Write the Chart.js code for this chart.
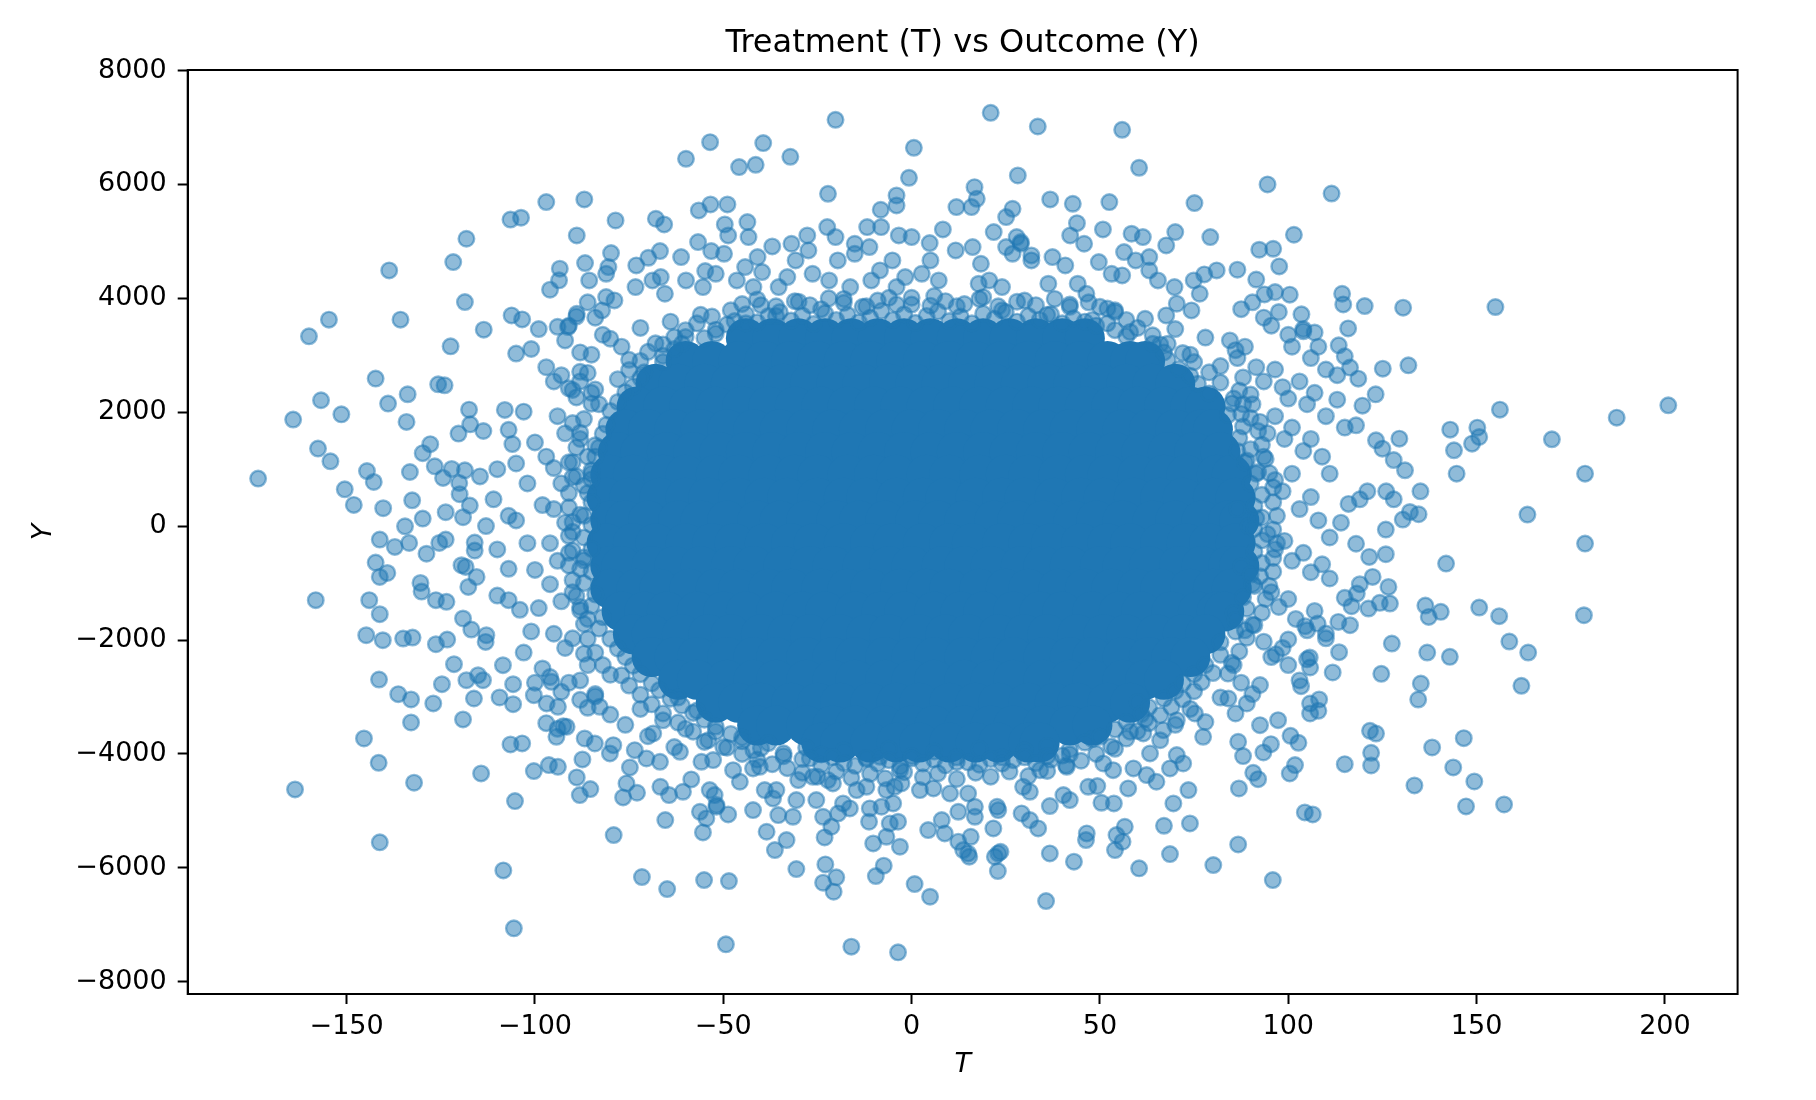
<!DOCTYPE html>
<html>
<head>
<meta charset="utf-8">
<script src="https://cdn.jsdelivr.net/npm/chart.js@4.4.1/dist/chart.umd.min.js"></script>
<style>
  html, body { margin: 0; padding: 0; background: #ffffff; }
  #c { display: block; }
</style>
</head>
<body>
<canvas id="c" width="1816" height="1100" style="width:1816px;height:1100px"></canvas>
<script>
// ---------------- DATA ----------------
const chartTitle = 'Treatment (T) vs Outcome (Y)';
const xLabel = 'T';
const yLabel = 'Y';
const tTicks = [-150, -100, -50, 0, 50, 100, 150, 200];
const yTicks = [-8000, -6000, -4000, -2000, 0, 2000, 4000, 6000, 8000];

// sparse points, left side  [T, Y]
const leftOuter = [
[-173.5,834],[-160,3332],[-154.7,3625],[-138.7,4490],[-135.7,3625],[-121.7,4636],[-118.2,5046],[-106.5,5382],[-103.7,5415],[-97,5690],
[-118.6,3934],[-122.4,3156],[-113.6,3449],[-96,4151],[-93.4,4520],[-93.6,4315],[-106.2,3700],[-103.4,3630],[-142.3,2590],[-156.8,2210],
[-164.2,1871],[-151.4,1962],[-139,2151],[-133.8,2315],[-134.1,1829],[-129.8,1281],[-127.8,1439],[-125.7,2490],[-124,2473],[-117.5,2045],
[-117.2,1787],[-113.7,1670],[-120.3,1624],[-157.6,1361],[-154.3,1138],[-144.6,967],[-142.8,775],[-150.5,646],[-148.1,372],[-140.3,314],
[-133.2,950],[-132.6,453],[-129.8,132],[-134.5,-3],[-141.2,-237],[-137.2,-366],[-133.4,-296],[-142.3,-640],[-141.2,-893],[-139.2,-823],
[-126.6,1050],[-124.4,846],[-122.1,1004],[-120.1,758],[-118.6,979],[-114.6,873],[-123.7,244],[-119.1,156],[-117.3,361],[-128.8,-485],
[-125.4,-296],[-123.7,-237],[-119.5,-687],[-118.4,-717],[-130.4,-998],[-130.1,-1150],[-117.7,-1068],[-115.5,-893],
[-158.2,-1300],[-144,-1300],[-141.2,-1547],[-144.8,-1916],[-140.4,-2004],[-135,-1974],[-132.5,-1957],[-126.3,-1300],[-123.5,-1330],
[-126.3,-2074],[-123.3,-1992],[-121.5,-2425],[-141.4,-2694],[-136.3,-2951],[-132.9,-3044],[-127,-3114],[-124.7,-2776],[-132.9,-3448],
[-145.4,-3729],[-141.5,-4157],[-163.7,-4624],[-132.1,-4506],[-141.2,-5553],[-119.1,-3395],[-118.2,-2706],[-115.1,-2618],[-113.8,-2706],
[-116.2,-3027],[-109.4,-3009],[-105.8,-3127],[-108.5,-2442],[-105.8,-2776],[-114.3,-4343],[-105.3,-4829],[-108.4,-6046],[-105.6,-7063],
[-106.5,-3834],[-103.4,-3816],[-100.3,-4302],[-96.3,-4197],[-93.9,-4227],[-88.9,-4413],[-66.8,-4139],[-94.3,-3700],[-91.6,-3525],
[-100.3,-2969],[-96.9,-3114],[-93.9,-3173],[-95.6,-2735],[-92.5,-3513],[-119.1,-1622],[-116.9,-1816],[-112.9,-1916],[-113.1,-2033],
[-111,470],[-110,-1220],[-110,-410],[-110,1000],[-108,2040],[-107,-1300],[-107,1690],[-107,180],[-107,-750],[-106,1440],[-105,1100],
[-105,3030],[-105,100],[-104,-1470],[-103,-2220],[-103,2010],[-102,-300],[-102,750],[-101,-1850],[-101,3110],[-100,1470],[-100,-2750],
[-100,-770],[-99,3460],[-99,-1440],[-98,-2500],[-98,370],[-97,1220],[-120,560],[-116,-290],[-116,-430],[-113,0]
];

// denser band just left of the saturated core
const leftBand = [
[-94,3500],[-92,3260],[-91,3520],[-89,3680],[-88,3050],[-86,3930],[-84,3660],[-82,3360],[-77,3150],[-97,2790],[-95,2540],[-93,2650],
[-91,2420],[-89,2260],[-88,2540],[-86,2690],[-85,2340],[-83,2140],[-94,1930],[-92,1630],[-90,1810],[-88,1530],[-86,1220],[-84,1420],
[-95,1020],[-93,750],[-91,1120],[-89,875],[-87,710],[-85,920],[-95,300],[-92,60],[-90,-100],[-88,200],[-96,-300],[-94,-610],[-91,-470],
[-88,-750],[-87,-550],[-96,-1020],[-93,-1320],[-90,-1160],[-88,-1420],[-86,-1630],[-95,-1890],[-92,-2140],[-90,-1970],[-87,-2240],
[-86,-2440],[-96,-2650],[-93,-2910],[-91,-2750],[-88,-3050],[-86,-3190],[-84,-2950],[-97,-3460],[-94,-3560]
];

// sparse points, right side
const rightOuter = [
[111.5,5840],[94.5,6000],[91.5,4330],[104,3420],[107,3400],[113,2650],[113,2220],[115,1730],[118,1770],[125,1360],[128,1160],[131,980],
[126,610],[128,470],[121,610],[119,470],[116,390],[114,60],[118,-310],[119,-1020],[115,-1260],
[200.9,2121],[187.2,1904],[155,3847],[156.2,2045],[170,1524],[144.7,921],[163.5,202],[178.8,921],[178.8,-307],[141.9,-658],[144,1331],
[143,1694],[150.2,1729],[150.7,1565],[148.8,1448],[130.5,3835],[120.3,3864],[114.3,4080],[114.6,3893],[101.5,5116],[92.3,4853],[96,4870],
[97.6,4560],[86.5,4502],[93.7,4069],[96.5,4110],[100.4,4064],[103.5,3718],[115.9,3472],[125.1,2764],[131.9,2823],[113.4,3174],[115,2981],
[116.4,2783],[118.6,2589],[123.2,2314],[119.7,2115],[129.5,1536],[123.3,1506],[135.1,611],[134.6,208],[132.3,248],[130.4,115],[125.9,-61],
[121.5,-541],[125.9,-494],[122.4,-892],[126.6,-1068],
[178.5,-1565],[150.7,-1430],[156,-1582],[158.7,-2027],[163.7,-2220],[161.9,-2805],[136.4,-1395],[137.3,-1594],[140.5,-1506],[127.5,-2062],
[136.9,-2220],[142.9,-2296],[124.7,-2594],[135.2,-2764],[134.5,-3045],[146.6,-3723],[138.2,-3887],[143.8,-4238],[149.4,-4484],[133.5,-4554],
[147.2,-4922],[157.3,-4888],[121.7,-3595],[123.3,-3642],[122,-3981],[122,-4203],[115,-4180],[95.9,-6216],[86.7,-5590],[104.4,-5028],
[106.5,-5063],[86.9,-4607],[100.4,-4343],[101.8,-4197],[92.5,-3495],[97.3,-3407],[100.6,-3682],[102.7,-3805],[93.4,-3975],[95.4,-3829],
[88,-4039],[90.7,-4332],[92,-4443],[103.4,-2811],[105.8,-3115],[105.8,-3290],[108,-3244],[108.2,-3044],[111.8,-2570],[113.5,-2214],
[105.7,-2307],[105.8,-2483],[96.7,-2249],[116.4,-1740],[113.3,-1682],[110,-1886],[104.5,-1758],[107.8,-1711],[100,-1991],[121.3,-1447],
[124.3,-1348],[127,-1360],[116.8,-1407],[118.2,-1184]
];

// denser band just right of the saturated core
const rightBand = [
[87.5,3810],[90.5,3930],[93.5,3660],[95.5,3520],[97.5,3760],[100,3360],[101,3150],[104,3460],[106,2950],[108,3150],[110,2750],[84.5,3260],
[86.5,2950],[88.5,3150],[91.5,2790],[93.5,2540],[96.5,2750],[98.5,2440],[100,2240],[103,2540],[105,2140],[107,2340],[110,1930],[85.5,2240],
[87.5,1970],[90.5,2140],[92.5,1830],[94.5,1630],[96.5,1930],[99,1530],[101,1730],[104,1320],[106,1530],[109,1220],[111,920],[86.5,1320],
[88.5,1120],[91.5,920],[93.5,1220],[96.5,810],[98.5,610],[101,920],[103,300],[106,510],[108,100],[111,-200],[86.5,300],[89.5,0],[91.5,140],
[94.5,-140],[96.5,-410],[99,-260],[101,-610],[104,-470],[106,-810],[109,-670],[111,-920],[87.5,-710],[90.5,-1020],[92.5,-880],[95.5,-1160],
[97.5,-1420],[100,-1280],[102,-1630],[105,-1830],[107,-1490],[110,-1970],[85.5,-1530],[88.5,-1830],[90.5,-1730],[93.5,-2030],[95.5,-2300],
[98.5,-2140],[100,-2440],[103,-2710],[105,-2340],[85.5,-2440],[87.5,-2750],[90.5,-2950],[92.5,-2790]
];

// points above the core
const topBand = [
[-20.2,7134],[21,7257],[33.5,7017],[55.9,6959],[0.6,6643],[28.2,6157],[60.4,6292],[-59.9,6450],[-53.5,6742],[-45.8,6304],[-41.4,6344],
[-39.4,6725],[-32.2,6485],[-0.7,6116],[-22.2,5835],[-86.9,5736],[-88.9,5104],[-86.7,4619],[-78.6,5367],[-67.9,5397],[-65.7,5297],
[-56.5,5543],[-53.4,5648],[-48.9,5648],[-49.6,5297],[-48.7,5104],[-43.6,5338],[-43.3,5075],[-79.8,4794],[-80.5,4549],[-81.1,4431],
[-73.1,4578],[-69.9,4712],[-66.8,4829],[-66.6,4373],[-61.2,4724],[-56.7,4987],[-54.8,4478],[-53.2,4829],[-37,4911],[-31.9,4958],
[-27.7,5104],[-22.4,5250],[-20.2,5075],[-15.1,4958],[-11.2,4900],[-11.8,5250],[-8.1,5250],[-8.2,5555],[-4,5806],[-4,5631],[8.3,5209],
[-3.4,5104],[0,5075],[4.8,4970],[11.9,5602],[16.7,5952],[17.3,5748],[15.9,5602],[21.8,5163],[25.1,5426],[26.8,5572],[27.9,5075],[29,4958],
[36.8,5736],[42.8,5660],[52.5,5689],[75.1,5672],[42.1,5104],[43.9,5320],[50.8,5209],[45.8,4958],[58.4,5134],[61.4,5075],[70,5163],
[67.6,4929],[79.3,5075],[56.4,4812],[59.5,4665],[63.1,4724],[53.1,4431],[55.9,4402],[49.7,4636],[65.4,4314],[63.1,4490],[69.8,4197],
[74.9,4314],[77.7,4420],[81,4490],[76.5,4080],[70.4,3905],[67.6,3700],[74.3,3788],[37.4,4724],[40.8,4578],[31.8,4666],[36.3,4256],
[44.1,4256],[46.4,4080],[25.1,4900],[26.8,4782],[29,4987],[31.8,4753],[16.2,4900],[18.4,4607],[20.6,4314],[24,4197],[17.8,4256],
[11.7,4841],[5,4666],[2.7,4431],[7.2,4314],[-5.1,4666],[-8.4,4490],[-10.7,4314],[-1.7,4373],[-4,4197],[-15.1,4782],[-19.6,4666],
[-21.9,4314],[-16.3,4197],[-27.4,4841],[-30.8,4666],[-26.3,4431],[-33,4373],[-35.3,4197],[-40.9,4724],[-44.2,4549],[-46.4,4314],
[-42,4197],[-39.7,4461],[-49.8,4782],[-52,4431],[-55.4,4197],[-59.9,4314],[-65.5,4080],[-68.8,4314],[-73.3,4197],[-78.9,3963],
[-82.2,3788],[-88.9,3729],[-91.2,3495],[-85.6,4314],[-81.1,4022]
];

// points below the core
const bottomBand = [
[-49.3,-7344],[-16,-7385],[-3.6,-7485],[-71.6,-6162],[-64.9,-6373],[-55.1,-6215],[-48.5,-6233],[-30.6,-6022],[-22.9,-5940],[-20,-6168],
[-23.5,-6262],[-20.7,-6420],[-9.5,-6145],[-7.4,-5963],[0.8,-6285],[-79.1,-5425],[-65.4,-5162],[-55.4,-5378],[-56.2,-5016],[-54.5,-5133],
[-51.8,-4928],[-48.7,-5063],[-38.5,-5367],[-36.3,-5689],[-33.2,-5513],[-42.1,-4987],[-35.4,-5075],[-31.5,-5104],[-23.1,-5466],[-21.3,-5279],
[-23.5,-5104],[-19.5,-5045],[-16.4,-4957],[-11.3,-5191],[-10.2,-5572],[-6.7,-5455],[-3.1,-5630],[-5.8,-5221],[-3.6,-5191],[-11.1,-4957],
[-8,-4928],[-4.9,-4870],[-85.3,-4618],[-88.1,-4723],[-87.4,-4097],[-86.8,-3729],[-84.1,-3817],[-82.8,-3173],[-80.1,-3992],[-79.2,-3846],
[-76.6,-4764],[-75.7,-4518],[-72.9,-4682],[-74.8,-4238],[-73.5,-3934],[-68.6,-3641],[-70.4,-4080],[-66.7,-4577],[-64.4,-4723],[-60.7,-4665],
[-58.5,-4448],[-61.5,-3963],[-53.6,-4636],[-52.3,-4723],[-51.8,-4899],[-55.8,-4138],[-52.7,-4109],[-45.6,-4489],[-47.4,-4285],[-39,-4636],
[-36.8,-4782],[-35.9,-4636],[-30.6,-4811],[-30.1,-4460],[-26.2,-4402],[-25.3,-4811],[-22.2,-4460],[-20.9,-4518],[-18.2,-4870],[-14.6,-4636],
[-12,-4577],[-6.7,-4636],[-4.5,-4577],[-2.7,-4518],[-8.4,-4051],[-3.1,-4285],[-42.1,-4255],[-40.3,-4226],
[35.7,-6584],[4.9,-6508],[22.9,-6057],[23,-5747],[22.1,-5806],[23.6,-5718],[15.3,-5806],[15,-5747],[13.7,-5689],[12.4,-5542],[36.7,-5747],
[43.1,-5893],[60.4,-6010],[80.1,-5952],[68.6,-5759],[54,-5689],[56,-5542],[56.6,-5279],[54.4,-5425],[46.5,-5396],[46.3,-5513],[67,-5262],
[73.9,-5221],[69.5,-4870],[73.5,-4636],[77.4,-3700],[86.7,-3787],[4.4,-5338],[8,-5162],[8.8,-5396],[12.4,-5016],[15.7,-5455],[16.8,-5104],
[16.8,-4928],[21.7,-5308],[23,-4987],[22.7,-4928],[29.2,-5045],[31.4,-5162],[33.6,-5308],[36.7,-4916],[40.3,-4723],[42,-4811],[46.9,-4577],
[49.3,-4565],[50.4,-4858],[53.7,-4870],[2.2,-4636],[5.8,-4606],[10.2,-4694],[15,-4694],[29.6,-4577],[31.4,-4665],[57.5,-4606],[65,-4489],
[62.4,-4372],[58.9,-4255],[68.6,-4255],[72.1,-4168],[70.4,-4021],[53.5,-4285],[50.9,-4168],[34.1,-4285],[41.2,-4226],[63.3,-3992],
[61.5,-3641],[66.8,-3583],[70.4,-3407],[75.2,-3290],[84.1,-3027],[89,-3115]
];

// crowded fringe around the top and bottom of the core
const edgeFill = [
[-85,3010],[-80,3290],[-75,2920],[-72,3480],[-68,3210],[-64,3590],[-60,3320],[-56,3710],[-52,3450],[-48,3790],[-44,3560],[-40,3880],
[-36,3690],[-30,3940],[-24,3810],[-18,3990],[-12,3860],[-6,4010],[0,3890],[6,4040],[12,3860],[18,3990],[24,3790],[30,3960],[36,3710],
[42,3890],[48,3620],[54,3790],[58,3410],[62,3640],[66,3190],[70,3460],[74,3010],[78,3310],[82,2810],[86,3090],[88,2610],[-88,2710],
[-90,2390],[90,2310],
[-80,-3310],[-76,-3490],[-72,-3210],[-70,-3690],[-66,-3410],[-63,-3880],[-60,-3560],[-57,-3240],[-55,-3790],[-52,-3610],[-49,-3890],
[-45,-3710],[-42,-3940],[-38,-3810],[-34,-4040],[-28,-3890],[-24,-4010],[-18,-3940],[-12,-4090],[-6,-3910],[0,-4040],[6,-3960],[12,-4140],
[18,-3910],[24,-4060],[30,-3940],[36,-3860],[42,-4010],[48,-3740],[54,-3910],[58,-3610],[62,-3390],[66,-3760],[70,-3490],[74,-3210],
[78,-3440],[82,-3010],[86,-3290],[-84,-2990],[-88,-2710],[-62,-3010],[60,-3090],[-80,-2610],[84,-2590]
];

// overlapping markers right at the edge of the saturated mass
const edgeRing = [
[-47,3600],[-44,3720],[-41,3580],[-38,3690],[-35,3760],[-32,3610],[-29,3700],[-26,3550],[-23,3740],[-20,3620],[-17,3710],[-14,3580],
[-11,3660],[-8,3780],[-5,3620],[-2,3720],[1,3570],[4,3690],[7,3770],[10,3600],[13,3680],[16,3560],[19,3730],[22,3640],[25,3760],
[28,3590],[31,3690],[34,3620],[37,3720],[40,3560],[43,3650],[46,3590],[49,3520],[52,3560],[54,3440],
[-49,3540],[-52,3380],[-55,3300],[-61,3200],[-63,3110],[-66,2990],[-66,2880],[-71,2700],[-72,2600],[-74,2450],[-76,2350],[-78,2180],
[-80,2020],[-81,1780],[-82,1620],[-83,1380],[-84,1220],[-85,980],[-85,820],[-86,580],[-85,420],[-87,180],[-85,20],[-87,-200],[-85,-400],
[-87,-600],[-85,-800],[-87,-1000],[-84,-1200],[-85,-1400],[-82,-1600],[-83,-1800],[-80,-1980],[-78,-2150],[-76,-2300],[-74,-2450],
[-72,-2600],[-69,-2760],[-67,-2880],[-64,-3030],[-61,-3150],[-58,-3280],[-55,-3400],[-52,-3520],[-48,-3650],[-45,-3780],[-40,-3900],
[-34,-3990],[-29,-4090],
[-27,-4080],[-24,-4190],[-21,-4060],[-18,-4160],[-15,-4210],[-12,-4070],[-9,-4170],[-6,-4110],[-3,-4220],[0,-4080],[3,-4170],[6,-4100],
[9,-4200],[12,-4060],[15,-4150],[18,-4190],[21,-4090],[24,-4170],[27,-4110],[30,-4060],[33,-4160],[36,-4040],
[37,-4100],[40,-4030],[42,-3920],[46,-3800],[50,-3700],[54,-3570],[57,-3440],[61,-3300],[63,-3180],[67,-3030],[70,-2900],[72,-2760],
[75,-2600],[78,-2440],
[82,-2260],[82,-2040],[86,-1850],[86,-1650],[89,-1450],[88,-1250],[91,-1050],[90,-850],[93,-650],[91,-450],[93,-250],[91,-50],
[93,150],[91,350],[93,550],[90,750],[92,950],[89,1150],[90,1350],[87,1550],[88,1750],[84,1950],[85,2150],
[79,2330],[76,2500],[74,2640],[71,2760],[68,2920],[67,3050],[64,3200],[57,3330]
];

// second, looser layer of markers outside the edge
const edgeRing2 = [
[-45,3900],[-41,3980],[-36,3860],[-31,3950],[-27,3880],[-22,4000],[-18,3920],[-13,3850],[-9,3960],[-4,3890],[0,4010],[5,3870],[9,3950],
[14,3900],[19,4020],[23,3860],[28,3940],[33,3880],[38,3990],[42,3850],[47,3930],[52,3820],
[-53,3680],[-57,3560],[-60,3440],[-63,3320],[-66,3190],[-70,3060],[-72,2900],[-75,2740],[-78,2580],
[-84,2400],[-85,2150],[-87,1880],[-88,1640],[-89,1380],[-90,1120],[-90,860],[-91,580],[-91,330],[-90,70],[-91,-170],[-90,-430],[-91,-690],
[-90,-950],[-89,-1230],[-88,-1480],[-87,-1720],[-86,-1980],[-84,-2220],[-82,-2440],
[-77,-2620],[-75,-2800],[-72,-2960],[-69,-3130],[-66,-3290],[-62,-3450],[-58,-3610],[-54,-3760],[-50,-3880],[-45,-4000],[-41,-4100],
[-37,-4180],[-33,-4250],
[-29,-4330],[-25,-4400],[-20,-4310],[-16,-4420],[-11,-4350],[-7,-4430],[-2,-4320],[3,-4410],[7,-4340],[12,-4440],[17,-4330],[21,-4400],
[26,-4310],[31,-4390],[36,-4300],
[41,-4200],[45,-4120],[49,-4000],[53,-3870],[57,-3730],[60,-3600],[63,-3460],[66,-3320],[69,-3180],[72,-3040],[75,-2900],[77,-2740],[80,-2580],
[85,-2400],[87,-2200],[89,-1960],[91,-1740],[93,-1520],[94,-1280],[95,-1050],[96,-800],[96,-560],[97,-300],[96,-60],[97,180],[96,420],
[96,680],[95,930],[94,1180],[93,1430],[92,1670],[90,1900],[88,2140],[87,2380],
[82,2520],[79,2700],[75,2880],[72,3040],[68,3200],[64,3350],[60,3480],[57,3620],[54,3760],[50,3850]
];

// saturated centre: rows of Y with the T positions of the overlapping mass
const coreRowY = [3300, 2900, 2500, 2100, 1700, 1300, 900, 500, 100, -300, -700, -1100, -1500, -1900, -2300, -2700, -3100, -3500, -3800];
const coreRowT = [
[-44,-37,-30,-23,-16,-9,-2,5,12,19,26,33,40,46],
[-60,-53,-46,-39,-32,-25,-18,-11,-4,3,10,17,24,31,38,45,52,58,62],
[-68,-62,-55,-48,-41,-34,-27,-20,-13,-6,1,8,15,22,29,36,43,50,57,64,70],
[-73,-66,-59,-52,-45,-38,-31,-24,-17,-10,-3,4,11,18,25,32,39,46,53,60,67,74,78],
[-76,-70,-63,-56,-49,-42,-35,-28,-21,-14,-7,0,7,14,21,28,35,42,49,56,63,70,77,80],
[-78,-72,-65,-58,-51,-44,-37,-30,-23,-16,-9,-2,5,12,19,26,33,40,47,54,61,68,75,82],
[-80,-74,-66,-60,-52,-46,-38,-31,-25,-17,-10,-4,4,10,18,25,31,39,46,52,60,67,73,81,85],
[-81,-75,-67,-60,-54,-46,-39,-33,-25,-18,-12,-4,3,9,17,24,30,38,45,51,59,66,72,80,86],
[-80,-76,-70,-62,-56,-49,-41,-35,-28,-20,-14,-7,1,7,14,22,28,35,43,49,56,64,70,77,84,87],
[-81,-74,-68,-60,-53,-47,-39,-32,-26,-18,-11,-5,3,10,16,24,31,37,45,52,58,66,73,79,86],
[-80,-77,-69,-63,-56,-48,-42,-34,-27,-21,-13,-6,0,8,14,21,29,35,42,50,56,63,71,77,84,87],
[-80,-73,-67,-59,-52,-46,-38,-32,-24,-17,-11,-3,4,10,18,25,31,39,46,53,60,66,74,80,85],
[-77,-71,-65,-57,-50,-44,-36,-29,-23,-15,-8,-2,6,13,19,27,34,40,48,55,61,69,76,81,83],
[-74,-69,-61,-54,-48,-40,-33,-27,-19,-12,-6,2,9,15,23,30,36,44,51,57,65,72,78],
[-69,-63,-57,-49,-42,-36,-28,-21,-15,-7,0,6,14,21,27,35,42,48,56,63,69,74],
[-62,-57,-49,-42,-36,-28,-21,-15,-7,0,6,14,21,27,35,42,48,56,62,67],
[-52,-46,-40,-32,-25,-19,-11,-4,2,10,17,23,31,38,44,52,58],
[-41,-36,-28,-21,-15,-7,0,6,14,21,27,35,42,48],
[-24,-19,-11,-4,2,10,17,23,31,34]
];

// ---------------- CHART ----------------
const toXY = p => ({ x: p[0], y: p[1] });
const samplePoints = [].concat(leftOuter, leftBand, rightOuter, rightBand, topBand, bottomBand, edgeFill, edgeRing, edgeRing2).map(toXY);
const corePoints = [];
coreRowT.forEach((row, i) => row.forEach(t => corePoints.push({ x: t, y: coreRowY[i] })));

const fmt = v => String(v).replace('-', '\u2212');
const FONT = 'DejaVu Sans';

const framePlugin = {
  id: 'frame',
  afterDraw(chart) {
    const { ctx, chartArea: a } = chart;
    ctx.save();
    ctx.strokeStyle = '#000';
    ctx.lineWidth = 2;
    ctx.strokeRect(a.left, a.top, a.right - a.left, a.bottom - a.top);
    ctx.restore();
  }
};

new Chart(document.getElementById('c').getContext('2d'), {
  type: 'scatter',
  data: {
    datasets: [
      {
        label: 'samples',
        data: samplePoints,
        backgroundColor: 'rgba(31,119,180,0.5)',
        borderColor: 'rgba(31,119,180,0.5)',
        borderWidth: 2.4,
        pointRadius: 7.8,
        pointHoverRadius: 7.8,
        order: 0
      },
      {
        label: 'dense centre',
        data: corePoints,
        backgroundColor: 'rgb(31,119,180)',
        borderWidth: 0,
        pointRadius: 20,
        pointHoverRadius: 20,
        order: 1
      }
    ]
  },
  options: {
    responsive: false,
    devicePixelRatio: 1,
    animation: false,
    events: [],
    layout: { padding: { left: 0, right: 78.4, top: 0, bottom: 0 } },
    plugins: {
      legend: { display: false },
      tooltip: { enabled: false },
      title: {
        display: true,
        text: chartTitle,
        fullSize: false,
        color: '#000',
        font: { family: FONT, size: 32, weight: 'normal' },
        padding: { top: 24, bottom: 7.6 }
      }
    },
    scales: {
      x: {
        type: 'linear',
        position: 'bottom',
        min: -192.2,
        max: 219.3,
        afterBuildTicks: axis => { axis.ticks = tTicks.map(v => ({ value: v })); },
        afterFit: s => { s.height = 106; },
        ticks: {
          autoSkip: false,
          maxRotation: 0,
          color: '#000',
          padding: 7,
          font: { family: FONT, size: 27 },
          callback: v => fmt(v)
        },
        grid: { display: true, drawOnChartArea: false, drawTicks: true, tickLength: 10, tickWidth: 2, tickColor: '#000' },
        border: { display: true, color: '#000', width: 2 },
        title: {
          display: true,
          text: xLabel,
          color: '#000',
          font: { family: FONT, size: 27, style: 'italic' },
          padding: { top: 0, bottom: 18.8 }
        }
      },
      y: {
        type: 'linear',
        position: 'left',
        min: -8216,
        max: 8009,
        afterBuildTicks: axis => { axis.ticks = yTicks.map(v => ({ value: v })); },
        afterFit: s => { s.width = 187.7; },
        ticks: {
          autoSkip: false,
          color: '#000',
          padding: 11,
          font: { family: FONT, size: 27 },
          callback: v => fmt(v)
        },
        grid: { display: true, drawOnChartArea: false, drawTicks: true, tickLength: 10, tickWidth: 2, tickColor: '#000' },
        border: { display: true, color: '#000', width: 2 },
        title: {
          display: true,
          text: yLabel,
          color: '#000',
          font: { family: FONT, size: 27, style: 'italic' },
          padding: { top: 27.8, bottom: 0 }
        }
      }
    }
  },
  plugins: [framePlugin]
});
</script>
</body>
</html>
